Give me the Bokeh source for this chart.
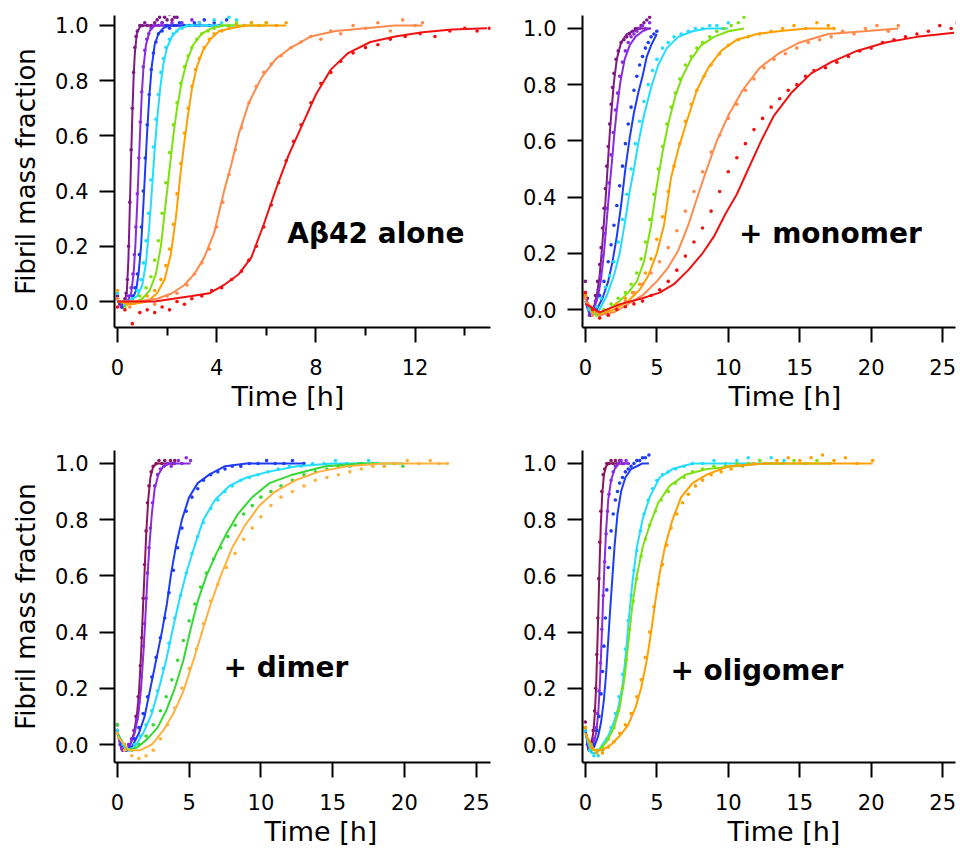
from bokeh.plotting import figure
from bokeh.layouts import column, row
from bokeh.models import Range1d, FixedTicker, PrintfTickFormatter, Label, Title
from bokeh.embed import file_html
from bokeh.resources import INLINE

# ======== Panel A: Abeta42 alone ========  (fit: *_t/*_fit ; measured dots: *_ot/*_obs)
A_pur_t = [0.0, 0.1, 0.2, 0.3, 0.38, 0.44, 0.5, 0.55, 0.6, 0.65, 0.7, 0.78, 0.9, 1.1, 1.4, 1.7, 2.0, 2.2, 2.4]
A_pur_fit = [0.0, -0.01, -0.01, 0.0, 0.04, 0.15, 0.35, 0.52, 0.68, 0.81, 0.9, 0.97, 0.995, 1.0, 1.0, 1.0, 1.0, 1.0, 1.0]
A_pur_ot = [0.0, 0.1, 0.2, 0.3, 0.35, 0.4, 0.45, 0.5, 0.55, 0.6, 0.65, 0.7, 0.75, 0.8, 0.9, 1.0, 1.1, 1.2, 1.35, 1.5, 1.6, 1.7, 1.8, 1.9, 2.0, 2.1, 2.2, 2.3, 2.4]
A_pur_obs = [0.02, -0.01, -0.02, 0.01, 0.03, 0.08, 0.2, 0.36, 0.55, 0.7, 0.83, 0.92, 0.96, 0.98, 1.0, 1.0, 1.01, 1.0, 1.0, 1.01, 1.02, 1.03, 1.01, 1.03, 1.02, 1.04, 1.02, 1.03, 1.03]

A_vio_t = [0.0, 0.2, 0.4, 0.55, 0.65, 0.72, 0.8, 0.86, 0.92, 0.98, 1.05, 1.15, 1.3, 1.5, 1.8, 2.2, 2.6, 3.0, 3.3]
A_vio_fit = [0.0, -0.01, 0.0, 0.03, 0.1, 0.2, 0.36, 0.5, 0.63, 0.75, 0.85, 0.93, 0.98, 1.0, 1.0, 1.0, 1.0, 1.0, 1.0]
A_vio_ot = [0.0, 0.15, 0.3, 0.45, 0.55, 0.62, 0.68, 0.74, 0.8, 0.86, 0.92, 0.98, 1.04, 1.1, 1.18, 1.26, 1.35, 1.5, 1.65, 1.8, 2.0, 2.2, 2.4, 2.6, 2.8, 3.0, 3.15, 3.3]
A_vio_obs = [0.01, -0.02, 0.0, 0.02, 0.05, 0.1, 0.17, 0.27, 0.39, 0.52, 0.65, 0.76, 0.85, 0.91, 0.95, 0.97, 0.99, 1.0, 1.0, 1.01, 1.0, 1.01, 1.0, 1.01, 1.0, 1.02, 1.0, 1.01]

A_blu_t = [0.0, 0.3, 0.6, 0.75, 0.85, 0.95, 1.05, 1.13, 1.2, 1.28, 1.38, 1.5, 1.65, 1.85, 2.1, 2.5, 3.0, 3.5, 4.0]
A_blu_fit = [0.0, -0.01, 0.01, 0.04, 0.1, 0.2, 0.36, 0.5, 0.62, 0.74, 0.85, 0.93, 0.97, 0.99, 1.0, 1.0, 1.0, 1.0, 1.0]
A_blu_ot = [0.0, 0.2, 0.4, 0.6, 0.7, 0.8, 0.88, 0.96, 1.04, 1.12, 1.2, 1.28, 1.36, 1.45, 1.55, 1.65, 1.8, 1.95, 2.1, 2.3, 2.5, 2.7, 2.9, 3.1, 3.3, 3.5, 3.7, 3.9, 4.1, 4.4]
A_blu_obs = [0.01, -0.02, 0.0, 0.02, 0.05, 0.1, 0.17, 0.27, 0.4, 0.52, 0.64, 0.75, 0.84, 0.9, 0.94, 0.97, 0.98, 1.0, 0.99, 1.0, 1.01, 1.0, 1.0, 1.01, 1.0, 1.02, 1.0, 1.01, 1.0, 1.02]

A_cya_t = [0.0, 0.4, 0.8, 1.0, 1.15, 1.28, 1.4, 1.5, 1.6, 1.72, 1.85, 2.0, 2.2, 2.5, 2.9, 3.3, 3.8, 4.3, 4.8]
A_cya_fit = [0.0, 0.0, 0.02, 0.06, 0.14, 0.27, 0.42, 0.55, 0.66, 0.77, 0.86, 0.92, 0.96, 0.99, 1.0, 1.0, 1.0, 1.0, 1.0]
A_cya_ot = [0.0, 0.3, 0.6, 0.8, 0.95, 1.05, 1.15, 1.25, 1.35, 1.45, 1.55, 1.65, 1.75, 1.85, 1.95, 2.1, 2.25, 2.4, 2.6, 2.8, 3.0, 3.3, 3.6, 3.9, 4.2, 4.5, 4.8]
A_cya_obs = [0.03, -0.01, 0.01, 0.04, 0.08, 0.14, 0.22, 0.32, 0.44, 0.56, 0.66, 0.75, 0.83, 0.88, 0.92, 0.95, 0.97, 0.98, 0.99, 1.0, 1.0, 1.01, 1.0, 1.02, 1.01, 1.03, 1.02]

A_grn_t = [0.0, 0.5, 1.0, 1.3, 1.55, 1.75, 1.95, 2.1, 2.25, 2.4, 2.6, 2.8, 3.05, 3.4, 3.8, 4.3, 4.8, 5.4, 6.0]
A_grn_fit = [0.0, -0.01, 0.01, 0.04, 0.1, 0.2, 0.36, 0.48, 0.6, 0.7, 0.8, 0.87, 0.93, 0.97, 0.99, 1.0, 1.0, 1.0, 1.0]
A_grn_ot = [0.0, 0.3, 0.6, 0.9, 1.15, 1.35, 1.5, 1.65, 1.8, 1.95, 2.1, 2.25, 2.4, 2.55, 2.7, 2.85, 3.0, 3.2, 3.4, 3.65, 3.9, 4.2, 4.5, 4.8, 5.1, 5.4, 5.7, 6.0]
A_grn_obs = [0.01, -0.02, 0.0, 0.02, 0.05, 0.09, 0.15, 0.22, 0.32, 0.43, 0.54, 0.64, 0.72, 0.79, 0.85, 0.89, 0.92, 0.95, 0.97, 0.98, 0.99, 1.0, 1.0, 1.01, 1.0, 1.01, 1.0, 1.01]

A_ora_t = [0.0, 0.6, 1.2, 1.6, 1.9, 2.15, 2.35, 2.55, 2.7, 2.85, 3.0, 3.2, 3.45, 3.75, 4.1, 4.6, 5.2, 6.0, 6.8]
A_ora_fit = [0.0, -0.01, 0.0, 0.03, 0.08, 0.17, 0.3, 0.47, 0.58, 0.68, 0.77, 0.85, 0.91, 0.95, 0.98, 0.99, 1.0, 1.0, 1.0]
A_ora_ot = [0.0, 0.4, 0.8, 1.2, 1.5, 1.75, 1.95, 2.1, 2.25, 2.4, 2.55, 2.7, 2.85, 3.0, 3.15, 3.3, 3.5, 3.7, 3.9, 4.2, 4.5, 4.8, 5.1, 5.4, 5.7, 6.0, 6.4, 6.8]
A_ora_obs = [0.04, -0.01, 0.0, 0.02, 0.04, 0.08, 0.13, 0.19, 0.28, 0.39, 0.5, 0.61, 0.7, 0.78, 0.84, 0.88, 0.92, 0.95, 0.97, 0.98, 0.99, 1.0, 1.0, 1.01, 1.0, 1.01, 1.0, 1.01]

A_sal_t = [0.0, 0.8, 1.6, 2.2, 2.7, 3.1, 3.5, 3.9, 4.3, 4.6, 4.9, 5.3, 5.8, 6.4, 7.0, 7.8, 8.8, 10.0, 11.2, 12.3]
A_sal_fit = [0.0, 0.0, 0.01, 0.03, 0.06, 0.1, 0.16, 0.25, 0.4, 0.5, 0.61, 0.72, 0.81, 0.88, 0.92, 0.96, 0.98, 0.99, 1.0, 1.0]
A_sal_ot = [0.0, 0.5, 1.0, 1.5, 2.0, 2.4, 2.8, 3.1, 3.4, 3.7, 4.0, 4.25, 4.5, 4.75, 5.0, 5.3, 5.6, 5.9, 6.2, 6.6, 7.0, 7.4, 7.8, 8.2, 8.6, 9.0, 9.5, 10.0, 10.5, 11.0, 11.5, 12.0, 12.3]
A_sal_obs = [0.01, -0.02, 0.0, -0.01, 0.02, 0.03, 0.06, 0.1, 0.14, 0.19, 0.27, 0.36, 0.46, 0.55, 0.63, 0.72, 0.78, 0.83, 0.86, 0.89, 0.92, 0.94, 0.96, 0.95, 0.98, 0.97, 1.0, 0.99, 1.01, 0.98, 1.02, 1.0, 1.01]

A_red_t = [0.0, 0.6, 1.5, 3.0, 3.7, 4.3, 4.9, 5.4, 5.9, 6.4, 6.9, 7.4, 8.0, 8.6, 9.3, 10.2, 11.2, 12.3, 13.5, 14.9]
A_red_fit = [0.0, 0.0, 0.0, 0.02, 0.03, 0.06, 0.1, 0.16, 0.28, 0.41, 0.53, 0.63, 0.75, 0.84, 0.9, 0.94, 0.96, 0.975, 0.985, 0.99]
A_red_ot = [0.0, 0.3, 0.6, 0.9, 1.2, 1.5, 1.8, 2.1, 2.4, 2.7, 3.0, 3.4, 3.8, 4.2, 4.6, 5.0, 5.3, 5.6, 5.9, 6.2, 6.5, 6.8, 7.1, 7.4, 7.8, 8.2, 8.6, 9.0, 9.5, 10.0, 10.5, 11.0, 11.6, 12.2, 12.8, 13.4, 14.0, 14.5, 15.0]
A_red_obs = [-0.02, -0.03, -0.08, -0.04, -0.03, -0.04, -0.02, -0.03, 0.0, -0.01, 0.01, 0.02, 0.04, 0.05, 0.08, 0.11, 0.15, 0.2, 0.27, 0.35, 0.43, 0.51, 0.58, 0.64, 0.72, 0.79, 0.83, 0.87, 0.9, 0.92, 0.93, 0.95, 0.96, 0.97, 0.96, 0.98, 0.99, 0.98, 0.99]

# ======== Panel B: + monomer ========
B_pur_t = [0.0, 0.3, 0.6, 0.8, 1.0, 1.2, 1.4, 1.55, 1.7, 1.85, 2.0, 2.2, 2.5, 2.9, 3.3, 3.8, 4.2, 4.6]
B_pur_fit = [0.05, -0.01, 0.01, 0.05, 0.12, 0.24, 0.38, 0.5, 0.62, 0.72, 0.81, 0.89, 0.95, 0.98, 0.99, 1.0, 1.0, 1.0]
B_pur_ot = [0.0, 0.15, 0.3, 0.5, 0.7, 0.85, 1.0, 1.1, 1.2, 1.3, 1.4, 1.5, 1.6, 1.7, 1.8, 1.9, 2.0, 2.15, 2.3, 2.5, 2.7, 2.9, 3.1, 3.3, 3.5, 3.7, 3.9, 4.1, 4.3, 4.5]
B_pur_obs = [0.1, 0.04, -0.02, 0.0, 0.05, 0.1, 0.16, 0.22, 0.29, 0.36, 0.43, 0.51, 0.58, 0.66, 0.73, 0.79, 0.84, 0.89, 0.92, 0.95, 0.96, 0.97, 0.98, 0.99, 1.0, 1.0, 1.01, 1.02, 1.03, 1.04]

B_vio_t = [0.0, 0.3, 0.6, 0.9, 1.1, 1.3, 1.5, 1.7, 1.85, 2.0, 2.2, 2.45, 2.75, 3.1, 3.5, 4.0, 4.5]
B_vio_fit = [0.03, -0.02, 0.0, 0.05, 0.11, 0.2, 0.32, 0.44, 0.52, 0.61, 0.71, 0.81, 0.89, 0.94, 0.97, 0.99, 1.0]
B_vio_ot = [0.0, 0.15, 0.3, 0.5, 0.7, 0.9, 1.05, 1.2, 1.35, 1.5, 1.65, 1.8, 1.95, 2.1, 2.25, 2.4, 2.6, 2.8, 3.0, 3.2, 3.4, 3.6, 3.8, 4.0, 4.2, 4.5]
B_vio_obs = [0.06, 0.02, -0.02, 0.0, 0.03, 0.07, 0.12, 0.19, 0.27, 0.36, 0.45, 0.55, 0.63, 0.71, 0.77, 0.83, 0.88, 0.92, 0.95, 0.97, 0.98, 0.99, 1.0, 1.01, 1.0, 1.02]

B_blu_t = [0.0, 0.4, 0.8, 1.2, 1.6, 1.9, 2.2, 2.5, 2.8, 3.1, 3.4, 3.7, 4.0, 4.3, 4.6, 5.0]
B_blu_fit = [0.03, -0.02, 0.0, 0.04, 0.1, 0.17, 0.26, 0.37, 0.5, 0.61, 0.7, 0.77, 0.83, 0.9, 0.94, 0.98]
B_blu_ot = [0.0, 0.2, 0.4, 0.7, 1.0, 1.3, 1.6, 1.8, 2.0, 2.2, 2.4, 2.6, 2.8, 3.0, 3.2, 3.4, 3.6, 3.8, 4.0, 4.2, 4.4, 4.6, 4.8, 5.0]
B_blu_obs = [0.05, 0.01, -0.02, 0.0, 0.05, 0.1, 0.17, 0.23, 0.3, 0.37, 0.44, 0.51, 0.59, 0.66, 0.72, 0.78, 0.83, 0.87, 0.9, 0.93, 0.95, 0.97, 0.98, 0.99]

B_cya_t = [0.0, 0.5, 1.0, 1.5, 2.0, 2.4, 2.8, 3.1, 3.4, 3.7, 4.1, 4.6, 5.1, 5.7, 6.5, 7.5, 8.5, 10.0]
B_cya_fit = [0.03, -0.02, 0.0, 0.05, 0.12, 0.2, 0.32, 0.42, 0.5, 0.59, 0.69, 0.79, 0.87, 0.93, 0.97, 0.99, 1.0, 1.0]
B_cya_ot = [0.0, 0.25, 0.5, 0.8, 1.1, 1.4, 1.7, 2.0, 2.3, 2.6, 2.9, 3.2, 3.5, 3.8, 4.1, 4.4, 4.7, 5.0, 5.4, 5.8, 6.2, 6.7, 7.2, 7.7, 8.2, 8.7, 9.2, 9.6, 10.0]
B_cya_obs = [0.05, 0.0, -0.01, 0.01, 0.04, 0.08, 0.12, 0.17, 0.24, 0.32, 0.41, 0.5, 0.59, 0.67, 0.74, 0.8, 0.85, 0.89, 0.93, 0.95, 0.97, 0.98, 0.99, 1.0, 1.0, 1.01, 1.01, 1.0, 1.02]

B_grn_t = [0.0, 0.8, 1.6, 2.4, 3.0, 3.6, 4.1, 4.6, 5.0, 5.4, 5.8, 6.3, 6.8, 7.4, 8.1, 9.0, 10.0, 11.1]
B_grn_fit = [0.03, -0.02, 0.0, 0.03, 0.06, 0.1, 0.17, 0.3, 0.44, 0.56, 0.66, 0.76, 0.83, 0.89, 0.94, 0.97, 0.99, 1.0]
B_grn_ot = [0.0, 0.4, 0.8, 1.3, 1.8, 2.3, 2.8, 3.2, 3.6, 3.9, 4.2, 4.5, 4.8, 5.1, 5.4, 5.7, 6.0, 6.3, 6.6, 7.0, 7.4, 7.8, 8.2, 8.7, 9.2, 9.7, 10.2, 10.7, 11.1]
B_grn_obs = [0.05, 0.0, -0.02, 0.0, 0.02, 0.04, 0.06, 0.09, 0.13, 0.18, 0.24, 0.32, 0.41, 0.5, 0.58, 0.66, 0.72, 0.77, 0.82, 0.87, 0.9, 0.93, 0.95, 0.97, 0.99, 1.0, 1.01, 1.02, 1.04]

B_ora_t = [0.0, 1.0, 2.0, 3.0, 3.8, 4.4, 5.0, 5.5, 6.0, 6.5, 7.1, 7.8, 8.6, 9.5, 10.6, 12.0, 13.5, 15.5, 17.4]
B_ora_fit = [0.03, -0.02, 0.0, 0.03, 0.07, 0.12, 0.2, 0.3, 0.47, 0.57, 0.67, 0.78, 0.86, 0.92, 0.96, 0.98, 0.99, 1.0, 1.0]
B_ora_ot = [0.0, 0.5, 1.0, 1.6, 2.2, 2.8, 3.3, 3.8, 4.2, 4.6, 5.0, 5.4, 5.8, 6.2, 6.6, 7.0, 7.4, 7.8, 8.3, 8.8, 9.4, 10.0, 10.7, 11.4, 12.2, 13.0, 13.8, 14.6, 15.4, 16.2, 17.0, 17.4]
B_ora_obs = [0.05, -0.01, -0.02, 0.0, 0.02, 0.04, 0.06, 0.09, 0.13, 0.18, 0.25, 0.33, 0.42, 0.51, 0.59, 0.67, 0.73, 0.78, 0.83, 0.87, 0.91, 0.94, 0.96, 0.97, 0.98, 0.99, 1.0, 1.01, 1.0, 1.02, 1.01, 1.0]

B_sal_t = [0.0, 1.0, 2.0, 3.0, 4.0, 5.0, 5.8, 6.5, 7.2, 7.9, 8.5, 9.2, 10.0, 11.0, 12.2, 13.5, 15.0, 17.0, 19.5, 21.9]
B_sal_fit = [0.03, -0.02, -0.01, 0.02, 0.05, 0.1, 0.15, 0.21, 0.3, 0.41, 0.5, 0.6, 0.69, 0.78, 0.86, 0.91, 0.95, 0.98, 0.99, 1.0]
B_sal_ot = [0.0, 0.5, 1.0, 1.6, 2.2, 2.8, 3.4, 4.0, 4.6, 5.2, 5.8, 6.4, 7.0, 7.6, 8.2, 8.8, 9.4, 10.0, 10.6, 11.2, 11.8, 12.5, 13.2, 14.0, 14.8, 15.6, 16.4, 17.2, 18.0, 18.8, 19.6, 20.4, 21.2, 21.9]
B_sal_obs = [0.04, -0.02, -0.03, -0.02, 0.0, 0.03, 0.06, 0.09, 0.13, 0.17, 0.22, 0.28, 0.35, 0.42, 0.49, 0.56, 0.62, 0.68, 0.73, 0.78, 0.82, 0.86, 0.89, 0.91, 0.93, 0.95, 0.96, 0.97, 0.99, 0.98, 1.0, 1.01, 0.99, 1.01]

B_red_t = [0.0, 1.0, 2.5, 4.0, 5.2, 6.2, 7.2, 8.2, 9.0, 9.8, 10.6, 11.4, 12.3, 13.2, 14.4, 15.8, 17.2, 19.0, 21.0, 23.2, 25.8]
B_red_fit = [0.02, -0.01, 0.02, 0.04, 0.06, 0.09, 0.14, 0.2, 0.26, 0.34, 0.41, 0.5, 0.6, 0.69, 0.77, 0.84, 0.88, 0.92, 0.95, 0.97, 0.985]
B_red_ot = [0.0, 0.5, 1.0, 1.6, 2.2, 2.8, 3.4, 4.0, 4.6, 5.2, 5.8, 6.4, 7.0, 7.6, 8.2, 8.8, 9.4, 10.0, 10.6, 11.2, 11.8, 12.4, 13.0, 13.6, 14.2, 14.8, 15.4, 16.0, 16.8, 17.6, 18.4, 19.2, 20.0, 20.8, 21.6, 22.4, 23.2, 24.0, 24.8, 25.6, 26.0]
B_red_obs = [0.06, 0.0, -0.03, -0.02, 0.0, 0.01, 0.02, 0.03, 0.05, 0.07, 0.1, 0.14, 0.19, 0.24, 0.29, 0.35, 0.42, 0.49, 0.54, 0.59, 0.64, 0.68, 0.72, 0.75, 0.78, 0.8, 0.83, 0.85, 0.86, 0.88, 0.9, 0.92, 0.93, 0.95, 0.96, 0.97, 0.98, 0.99, 1.01, 1.0, 1.02]

# ======== Panel C: + dimer ========
C_mar_t = [0.0, 0.3, 0.6, 0.9, 1.15, 1.35, 1.5, 1.65, 1.78, 1.9, 2.02, 2.15, 2.3, 2.5, 2.8, 3.2, 3.6, 4.0]
C_mar_fit = [0.05, -0.02, -0.02, 0.0, 0.04, 0.1, 0.18, 0.32, 0.48, 0.62, 0.76, 0.87, 0.95, 0.99, 1.0, 1.0, 1.0, 1.0]
C_mar_ot = [0.0, 0.2, 0.4, 0.6, 0.8, 1.0, 1.15, 1.3, 1.45, 1.6, 1.7, 1.8, 1.9, 2.0, 2.1, 2.2, 2.35, 2.5, 2.7, 2.9, 3.1, 3.3, 3.5, 3.7, 3.85, 4.0]
C_mar_obs = [0.07, 0.0, -0.02, -0.02, 0.0, 0.02, 0.05, 0.1, 0.17, 0.28, 0.38, 0.52, 0.64, 0.76, 0.86, 0.92, 0.97, 0.99, 1.0, 1.01, 1.0, 1.01, 1.0, 1.01, 1.0, 1.01]

C_vio_t = [0.0, 0.3, 0.6, 0.9, 1.2, 1.45, 1.65, 1.82, 1.97, 2.1, 2.25, 2.4, 2.6, 2.85, 3.2, 3.7, 4.3, 5.1]
C_vio_fit = [0.04, -0.02, -0.02, 0.0, 0.04, 0.1, 0.2, 0.33, 0.47, 0.6, 0.72, 0.82, 0.91, 0.96, 0.99, 1.0, 1.0, 1.0]
C_vio_ot = [0.0, 0.2, 0.4, 0.6, 0.8, 1.0, 1.2, 1.35, 1.5, 1.65, 1.8, 1.9, 2.0, 2.1, 2.2, 2.3, 2.45, 2.6, 2.8, 3.0, 3.25, 3.5, 3.75, 4.0, 4.25, 4.5, 4.8, 5.1]
C_vio_obs = [0.05, 0.0, -0.02, -0.02, 0.0, 0.02, 0.05, 0.09, 0.15, 0.24, 0.35, 0.43, 0.52, 0.61, 0.7, 0.77, 0.86, 0.92, 0.96, 0.98, 0.99, 1.0, 0.99, 1.0, 1.01, 1.0, 1.02, 1.01]

C_blu_t = [0.0, 0.5, 1.0, 1.5, 1.9, 2.3, 2.7, 3.1, 3.45, 3.75, 4.1, 4.5, 5.0, 5.6, 6.4, 7.5, 9.0, 11.0, 13.0]
C_blu_fit = [0.04, -0.02, -0.01, 0.04, 0.1, 0.2, 0.3, 0.4, 0.5, 0.61, 0.71, 0.8, 0.88, 0.93, 0.96, 0.99, 1.0, 1.0, 1.0]
C_blu_ot = [0.0, 0.3, 0.6, 0.9, 1.2, 1.5, 1.8, 2.1, 2.4, 2.7, 3.0, 3.3, 3.6, 3.9, 4.2, 4.5, 4.8, 5.2, 5.6, 6.0, 6.5, 7.0, 7.5, 8.0, 8.6, 9.2, 9.8, 10.4, 11.0, 11.6, 12.2, 13.0]
C_blu_obs = [0.05, 0.0, -0.02, -0.01, 0.02, 0.06, 0.11, 0.17, 0.24, 0.31, 0.38, 0.45, 0.54, 0.62, 0.7, 0.77, 0.83, 0.88, 0.91, 0.94, 0.96, 0.97, 0.98, 0.99, 0.99, 1.0, 1.0, 1.01, 1.0, 1.0, 1.01, 1.0]

C_cya_t = [0.0, 0.6, 1.2, 1.8, 2.4, 2.9, 3.4, 3.9, 4.3, 4.8, 5.4, 6.0, 6.8, 7.8, 9.0, 10.5, 12.5, 15.0, 18.0]
C_cya_fit = [0.04, -0.02, -0.01, 0.04, 0.11, 0.2, 0.3, 0.42, 0.51, 0.61, 0.71, 0.8, 0.87, 0.92, 0.95, 0.97, 0.99, 1.0, 1.0]
C_cya_ot = [0.0, 0.4, 0.8, 1.2, 1.6, 2.0, 2.4, 2.8, 3.2, 3.6, 4.0, 4.4, 4.8, 5.2, 5.6, 6.0, 6.5, 7.0, 7.5, 8.0, 8.6, 9.2, 9.8, 10.5, 11.2, 12.0, 12.8, 13.6, 14.4, 15.2, 16.0, 16.8, 17.5, 18.1]
C_cya_obs = [0.05, 0.0, -0.02, 0.0, 0.03, 0.07, 0.12, 0.19, 0.27, 0.36, 0.45, 0.53, 0.61, 0.68, 0.74, 0.79, 0.84, 0.87, 0.9, 0.92, 0.94, 0.95, 0.96, 0.97, 0.98, 0.99, 0.99, 1.0, 1.0, 1.01, 1.0, 1.0, 1.01, 1.0]

C_grn_t = [0.0, 0.7, 1.4, 2.1, 2.8, 3.4, 4.0, 4.6, 5.1, 5.6, 6.2, 6.9, 7.6, 8.4, 9.4, 10.6, 12.2, 14.5, 17.0, 19.9]
C_grn_fit = [0.04, -0.02, -0.01, 0.02, 0.06, 0.12, 0.2, 0.3, 0.41, 0.51, 0.6, 0.68, 0.75, 0.82, 0.88, 0.93, 0.96, 0.99, 1.0, 1.0]
C_grn_ot = [0.0, 0.5, 1.0, 1.5, 2.0, 2.5, 3.0, 3.4, 3.8, 4.2, 4.6, 5.0, 5.4, 5.8, 6.2, 6.7, 7.2, 7.7, 8.2, 8.8, 9.4, 10.0, 10.7, 11.4, 12.2, 13.0, 13.8, 14.6, 15.4, 16.2, 17.0, 17.8, 18.6, 19.3, 19.9]
C_grn_obs = [0.07, 0.0, -0.02, 0.0, 0.03, 0.07, 0.12, 0.17, 0.23, 0.3, 0.37, 0.44, 0.5, 0.56, 0.61, 0.66, 0.7, 0.74, 0.78, 0.82, 0.85, 0.88, 0.9, 0.92, 0.94, 0.96, 0.97, 0.98, 0.99, 0.99, 1.0, 1.0, 0.99, 1.0, 0.99]

C_ora_t = [0.0, 0.8, 1.6, 2.4, 3.2, 3.9, 4.6, 5.3, 5.9, 6.5, 7.2, 8.0, 8.9, 9.9, 11.0, 12.4, 14.0, 16.0, 18.5, 21.0, 23.0]
C_ora_fit = [0.03, -0.02, -0.02, 0.0, 0.05, 0.11, 0.19, 0.3, 0.4, 0.5, 0.6, 0.7, 0.78, 0.85, 0.9, 0.94, 0.97, 0.99, 1.0, 1.0, 1.0]
C_ora_ot = [0.0, 0.5, 1.0, 1.5, 2.0, 2.5, 3.0, 3.5, 4.0, 4.5, 5.0, 5.5, 6.0, 6.5, 7.0, 7.6, 8.2, 8.8, 9.4, 10.0, 10.7, 11.4, 12.2, 13.0, 13.8, 14.6, 15.4, 16.2, 17.0, 17.8, 18.6, 19.4, 20.2, 21.0, 21.8, 22.4, 23.0]
C_ora_obs = [0.04, -0.02, -0.04, -0.05, -0.04, -0.02, 0.02, 0.07, 0.13, 0.2, 0.27, 0.34, 0.43, 0.51, 0.57, 0.63, 0.68, 0.73, 0.77, 0.81, 0.85, 0.88, 0.9, 0.92, 0.94, 0.95, 0.96, 0.97, 0.98, 0.99, 0.99, 1.0, 1.01, 1.0, 1.01, 1.0, 1.0]

# ======== Panel D: + oligomer ========
D_mar_t = [0.0, 0.2, 0.4, 0.55, 0.65, 0.75, 0.85, 0.92, 1.0, 1.08, 1.18, 1.3, 1.45, 1.65, 1.9, 2.2, 2.6]
D_mar_fit = [0.06, -0.02, 0.0, 0.04, 0.1, 0.2, 0.37, 0.5, 0.65, 0.78, 0.89, 0.96, 0.99, 1.0, 1.0, 1.0, 1.0]
D_mar_ot = [0.0, 0.15, 0.3, 0.45, 0.55, 0.65, 0.72, 0.8, 0.87, 0.94, 1.01, 1.08, 1.15, 1.25, 1.35, 1.5, 1.65, 1.8, 1.95, 2.1, 2.25, 2.4, 2.6]
D_mar_obs = [0.08, 0.0, -0.02, 0.01, 0.05, 0.12, 0.2, 0.32, 0.45, 0.59, 0.72, 0.83, 0.9, 0.96, 0.98, 1.0, 1.0, 1.01, 1.0, 1.01, 1.0, 1.01, 1.0]

D_vio_t = [0.0, 0.3, 0.55, 0.75, 0.9, 1.02, 1.13, 1.23, 1.33, 1.45, 1.6, 1.8, 2.05, 2.35, 2.7, 3.0]
D_vio_fit = [0.05, -0.02, 0.0, 0.04, 0.11, 0.22, 0.36, 0.5, 0.63, 0.76, 0.87, 0.94, 0.98, 1.0, 1.0, 1.0]
D_vio_ot = [0.0, 0.15, 0.3, 0.45, 0.6, 0.75, 0.85, 0.95, 1.05, 1.15, 1.25, 1.35, 1.45, 1.55, 1.65, 1.8, 1.95, 2.1, 2.3, 2.5, 2.7, 2.85, 3.0]
D_vio_obs = [0.06, 0.0, -0.02, 0.0, 0.02, 0.06, 0.11, 0.19, 0.29, 0.41, 0.53, 0.65, 0.75, 0.83, 0.89, 0.94, 0.97, 0.99, 1.0, 1.01, 1.0, 1.01, 1.0]

D_blu_t = [0.0, 0.3, 0.6, 0.9, 1.1, 1.3, 1.45, 1.6, 1.75, 1.9, 2.05, 2.25, 2.5, 2.8, 3.2, 3.6, 4.0, 4.45]
D_blu_fit = [0.05, -0.02, -0.01, 0.03, 0.08, 0.16, 0.25, 0.37, 0.49, 0.6, 0.71, 0.82, 0.9, 0.95, 0.98, 0.99, 1.0, 1.0]
D_blu_ot = [0.0, 0.2, 0.4, 0.6, 0.8, 0.95, 1.1, 1.2, 1.3, 1.4, 1.5, 1.6, 1.7, 1.8, 1.95, 2.1, 2.25, 2.4, 2.6, 2.8, 3.0, 3.2, 3.4, 3.6, 3.8, 4.0, 4.2, 4.45]
D_blu_obs = [0.06, 0.0, -0.02, 0.0, 0.05, 0.1, 0.18, 0.26, 0.35, 0.45, 0.55, 0.63, 0.7, 0.76, 0.82, 0.87, 0.9, 0.93, 0.95, 0.97, 0.98, 0.99, 1.0, 1.01, 1.01, 1.02, 1.02, 1.03]

D_cya_t = [0.0, 0.4, 0.8, 1.2, 1.6, 2.0, 2.3, 2.6, 2.85, 3.05, 3.3, 3.6, 4.0, 4.5, 5.2, 6.1, 7.5, 9.5, 11.7, 13.9]
D_cya_fit = [0.04, -0.03, -0.03, 0.0, 0.03, 0.08, 0.13, 0.21, 0.33, 0.45, 0.58, 0.7, 0.8, 0.88, 0.95, 0.98, 1.0, 1.0, 1.0, 1.0]
D_cya_ot = [0.0, 0.3, 0.6, 0.9, 1.2, 1.5, 1.8, 2.1, 2.35, 2.6, 2.8, 3.0, 3.2, 3.4, 3.6, 3.85, 4.1, 4.4, 4.7, 5.0, 5.4, 5.8, 6.3, 6.9, 7.5, 8.2, 9.0, 9.8, 10.6, 11.4, 12.2, 13.0, 13.9]
D_cya_obs = [0.05, -0.02, -0.04, -0.04, -0.02, 0.02, 0.06, 0.11, 0.17, 0.25, 0.34, 0.44, 0.53, 0.62, 0.69, 0.76, 0.82, 0.87, 0.91, 0.94, 0.96, 0.97, 0.98, 0.99, 1.0, 1.0, 1.01, 1.0, 1.01, 1.02, 1.01, 1.02, 1.01]

D_grn_t = [0.0, 0.5, 1.0, 1.5, 2.0, 2.4, 2.75, 3.05, 3.3, 3.6, 4.0, 4.5, 5.1, 5.9, 7.0, 8.5, 10.5, 12.5, 14.8, 17.1]
D_grn_fit = [0.04, -0.02, -0.02, 0.01, 0.06, 0.13, 0.24, 0.38, 0.5, 0.6, 0.7, 0.78, 0.86, 0.92, 0.96, 0.98, 0.99, 1.0, 1.0, 1.0]
D_grn_ot = [0.0, 0.4, 0.8, 1.2, 1.6, 2.0, 2.3, 2.6, 2.85, 3.1, 3.35, 3.6, 3.9, 4.2, 4.5, 4.9, 5.3, 5.8, 6.3, 6.9, 7.5, 8.2, 9.0, 9.8, 10.6, 11.4, 12.2, 13.0, 13.8, 14.6, 15.4, 16.2, 17.1]
D_grn_obs = [0.06, 0.0, -0.02, -0.01, 0.02, 0.06, 0.12, 0.2, 0.3, 0.41, 0.51, 0.59, 0.67, 0.73, 0.78, 0.83, 0.87, 0.9, 0.93, 0.95, 0.97, 0.98, 0.99, 0.99, 1.0, 1.0, 1.01, 1.0, 1.0, 1.01, 1.0, 1.01, 1.0]

D_ora_t = [0.0, 0.6, 1.2, 1.8, 2.4, 3.0, 3.5, 3.9, 4.3, 4.6, 4.9, 5.2, 5.6, 6.1, 6.7, 7.5, 8.5, 10.0, 12.5, 15.0, 17.5, 20.1]
D_ora_fit = [0.04, -0.02, -0.02, 0.0, 0.03, 0.07, 0.13, 0.2, 0.3, 0.4, 0.51, 0.61, 0.71, 0.8, 0.88, 0.93, 0.96, 0.99, 1.0, 1.0, 1.0, 1.0]
D_ora_ot = [0.0, 0.4, 0.8, 1.2, 1.6, 2.0, 2.4, 2.8, 3.2, 3.6, 3.9, 4.2, 4.5, 4.8, 5.1, 5.4, 5.7, 6.0, 6.4, 6.8, 7.2, 7.7, 8.2, 8.8, 9.5, 10.2, 11.0, 11.8, 12.6, 13.4, 14.2, 15.0, 15.8, 16.6, 17.4, 18.2, 19.0, 20.1]
D_ora_obs = [0.06, -0.01, -0.03, -0.03, -0.01, 0.01, 0.04, 0.07, 0.11, 0.17, 0.23, 0.31, 0.4, 0.49, 0.57, 0.64, 0.71, 0.77, 0.82, 0.86, 0.89, 0.92, 0.94, 0.96, 0.97, 0.98, 0.99, 1.0, 1.0, 1.01, 1.02, 1.01, 1.02, 1.03, 1.01, 1.02, 1.0, 1.01]

# ======== ticks and texts ========
X_TICKS_A = [0, 4, 8, 12]
X_MINOR_A = [2, 6, 10, 14]
X_TICKS_BCD = [0, 5, 10, 15, 20, 25]
Y_TICKS = [0.0, 0.2, 0.4, 0.6, 0.8, 1.0]
PANEL_LABELS = ["A\u03b242 alone", "+ monomer", "+ dimer", "+ oligomer"]
X_LABEL = "Time [h]"
Y_LABEL = "Fibril mass fraction"

# colours
PUR = "#7E1A86"
VIO = "#8A2BE2"
MAR = "#8B1660"
BLU = "#1E3CF5"
CYA = "#22DDFF"
LIM = "#7FE010"
GRN = "#35D835"
ORA = "#FFA000"
LOR = "#FFB13F"
SAL = "#FF8A4C"
RED = "#F21010"

FONT = "DejaVu Sans"


def make_panel(w, h, mbl, mbr, mbt, mbb, xr, yr, xt, xm, ylabel, series, label, lx, ly, toff):
    p = figure(width=w, height=h, x_range=Range1d(*xr), y_range=Range1d(*yr),
               output_backend="svg", toolbar_location=None,
               min_border_left=mbl, min_border_right=mbr,
               min_border_top=mbt, min_border_bottom=mbb)
    p.outline_line_color = None
    p.grid.visible = False
    p.background_fill_color = "white"
    p.border_fill_color = "white"

    xa = p.xaxis[0]
    xa.ticker = FixedTicker(ticks=xt, minor_ticks=xm)
    ya = p.yaxis[0]
    ya.ticker = FixedTicker(ticks=Y_TICKS, minor_ticks=[])
    ya.formatter = PrintfTickFormatter(format="%.1f")
    if ylabel:
        ya.axis_label = Y_LABEL
    for ax in (xa, ya):
        ax.axis_line_width = 2
        ax.axis_line_color = "black"
        ax.major_tick_line_width = 2
        ax.minor_tick_line_width = 2
        ax.major_tick_in = 0
        ax.minor_tick_in = 0
        ax.major_tick_out = 15
        ax.minor_tick_out = 8
        ax.major_label_text_font = FONT
        ax.major_label_text_font_size = "21px"
        ax.major_label_text_color = "black"
        ax.axis_label_text_font = FONT
        ax.axis_label_text_font_size = "26px"
        ax.axis_label_text_font_style = "normal"
        ax.axis_label_text_color = "black"
    xa.major_label_standoff = 16
    ya.major_label_standoff = 11
    ya.axis_label_standoff = 11

    # x-axis title as a below-title, so it can sit slightly off-centre like the original
    p.add_layout(Title(text=X_LABEL, align="left", offset=toff, standoff=2,
                       text_font=FONT, text_font_size="27px", text_font_style="normal",
                       text_color="black"), "below")

    for color, t, fit, ot, obs in series:
        p.scatter(ot, obs, size=3.6, color=color, line_color=None)
        p.line(t, fit, line_color=color, line_width=2)

    p.add_layout(Label(x=lx, y=ly, text=label, text_font=FONT, text_font_style="bold",
                       text_font_size="28px", text_color="black",
                       text_align="left", text_baseline="middle"))
    return p


series_A = [
    (PUR, A_pur_t, A_pur_fit, A_pur_ot, A_pur_obs),
    (VIO, A_vio_t, A_vio_fit, A_vio_ot, A_vio_obs),
    (BLU, A_blu_t, A_blu_fit, A_blu_ot, A_blu_obs),
    (CYA, A_cya_t, A_cya_fit, A_cya_ot, A_cya_obs),
    (LIM, A_grn_t, A_grn_fit, A_grn_ot, A_grn_obs),
    (ORA, A_ora_t, A_ora_fit, A_ora_ot, A_ora_obs),
    (SAL, A_sal_t, A_sal_fit, A_sal_ot, A_sal_obs),
    (RED, A_red_t, A_red_fit, A_red_ot, A_red_obs),
]
series_B = [
    (PUR, B_pur_t, B_pur_fit, B_pur_ot, B_pur_obs),
    (VIO, B_vio_t, B_vio_fit, B_vio_ot, B_vio_obs),
    (BLU, B_blu_t, B_blu_fit, B_blu_ot, B_blu_obs),
    (CYA, B_cya_t, B_cya_fit, B_cya_ot, B_cya_obs),
    (LIM, B_grn_t, B_grn_fit, B_grn_ot, B_grn_obs),
    (ORA, B_ora_t, B_ora_fit, B_ora_ot, B_ora_obs),
    (SAL, B_sal_t, B_sal_fit, B_sal_ot, B_sal_obs),
    (RED, B_red_t, B_red_fit, B_red_ot, B_red_obs),
]
series_C = [
    (MAR, C_mar_t, C_mar_fit, C_mar_ot, C_mar_obs),
    (VIO, C_vio_t, C_vio_fit, C_vio_ot, C_vio_obs),
    (BLU, C_blu_t, C_blu_fit, C_blu_ot, C_blu_obs),
    (CYA, C_cya_t, C_cya_fit, C_cya_ot, C_cya_obs),
    (GRN, C_grn_t, C_grn_fit, C_grn_ot, C_grn_obs),
    (LOR, C_ora_t, C_ora_fit, C_ora_ot, C_ora_obs),
]
series_D = [
    (MAR, D_mar_t, D_mar_fit, D_mar_ot, D_mar_obs),
    (VIO, D_vio_t, D_vio_fit, D_vio_ot, D_vio_obs),
    (BLU, D_blu_t, D_blu_fit, D_blu_ot, D_blu_obs),
    (CYA, D_cya_t, D_cya_fit, D_cya_ot, D_cya_obs),
    (LIM, D_grn_t, D_grn_fit, D_grn_ot, D_grn_obs),
    (ORA, D_ora_t, D_ora_fit, D_ora_ot, D_ora_obs),
]

p1 = make_panel(520, 440, 114, 30, 15, 113, (-0.12, 15.04), (-0.094, 1.036),
                X_TICKS_A, X_MINOR_A, True, series_A, PANEL_LABELS[0], 6.85, 0.245, 117)
p2 = make_panel(440, 440, 60, 5, 15, 113, (-0.2, 25.9), (-0.064, 1.046),
                X_TICKS_BCD, [], False, series_B, PANEL_LABELS[1], 10.75, 0.27, 146)
p3 = make_panel(520, 410, 114, 30, 10, 88, (-0.2, 26.0), (-0.064, 1.046),
                X_TICKS_BCD, [], True, series_C, PANEL_LABELS[2], 7.4, 0.274, 150)
p4 = make_panel(440, 410, 60, 5, 10, 88, (-0.2, 25.9), (-0.064, 1.046),
                X_TICKS_BCD, [], False, series_D, PANEL_LABELS[3], 5.95, 0.263, 145)

layout = column(row(p1, p2), row(p3, p4))
open("out.html", "w").write(file_html(layout, INLINE))
